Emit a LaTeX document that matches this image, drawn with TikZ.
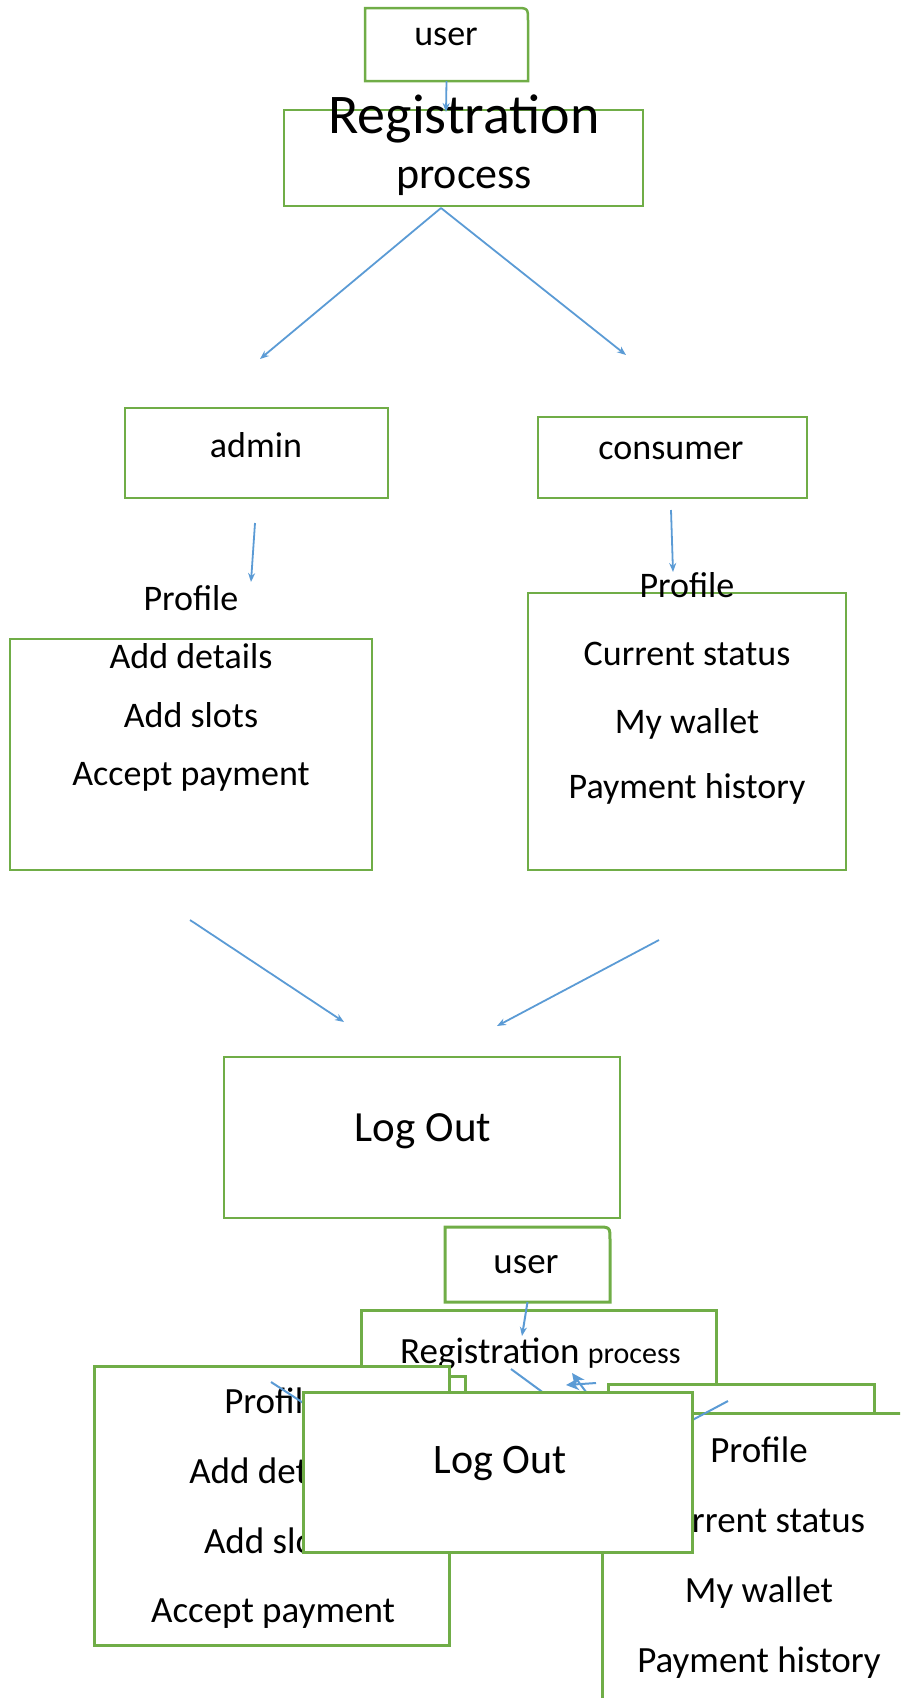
\documentclass[tikz,border=0pt]{standalone}
\usepackage{fontspec}
\setmainfont{Carlito}
\usetikzlibrary{arrows.meta,positioning,calc}
\definecolor{boxgreen}{HTML}{70AD47}
\definecolor{arrowblue}{HTML}{5B9BD5}
\tikzset{
  frame/.style={inner sep=0pt,outer sep=0pt},
  box/.style={frame,draw=boxgreen,line width=2.5pt},
  frontbox/.style={box,line width=3pt,fill=white},
  lbl/.style={anchor=base,inner sep=0pt,font=\fontsize{36}{40}\selectfont},
  conn/.style={draw=arrowblue,line width=1.8pt,-{Stealth[length=9pt,width=7pt]}},
  connB/.style={conn,line width=2pt}
}

\begin{document}
\begin{tikzpicture}[x=1pt,y=-1pt]
  \useasboundingbox (0,0) rectangle (900,1698);
  \clip (0,0) rectangle (900,1698);
  % 上段のフロー
  \node[frame,minimum width=163pt,minimum height=73pt] (userA) at (446.5,44.5) {};
  \draw[box] ($(userA.north east)+(-13,0)$) -- (userA.north west) -- (userA.south west) -- (userA.south east) -- ($(userA.north east)+(0,13)$) .. controls (userA.north east) .. ($(userA.north east)+(-13,0)$);
  \node[lbl] (userAt) at (446,45) {user};
  \node[box,minimum width=359pt,minimum height=96pt] (regA) at (463.5,158) {};
  \node[lbl,font=\fontsize{56}{60}\selectfont] (regAt) at (464,133) {Registration};
  \node[lbl,font=\fontsize{44}{48}\selectfont] (procAt) at (464,188) {process};
  \node[box,minimum width=263pt,minimum height=90pt] (adminA) at (256.5,453) {};
  \node[lbl] (adminAt) at (256,457) {admin};
  \node[box,minimum width=269pt,minimum height=81pt] (consA) at (672.5,457.5) {};
  \node[lbl] (consAt) at (671,459) {consumer};
  \node[lbl] (profA) at (191,610) {Profile};
  \node[box,minimum width=362pt,minimum height=231pt] (adminP) at (191,754.5) {};
  \node[lbl] (adA1) at (191,668) {Add details};
  \node[lbl] (adA2) at (191,727) {Add slots};
  \node[lbl] (adA3) at (191,785) {Accept payment};
  \node[box,minimum width=318pt,minimum height=277pt] (consP) at (687,731.5) {};
  \node[lbl] (coA0) at (687,597) {Profile};
  \node[lbl] (coA1) at (687,665) {Current status};
  \node[lbl] (coA2) at (687,733) {My wallet};
  \node[lbl] (coA3) at (687,798) {Payment history};
  \node[box,minimum width=396pt,minimum height=161pt] (logoutA) at (422,1137.5) {};
  \node[lbl,font=\fontsize{43}{47}\selectfont] (logoutAt) at (423,1141) {Log Out};
  % 上段の矢印
  \coordinate (regAin) at (446,112);
  \coordinate (splitA) at (441,208);
  \coordinate (toAdminA) at (260,359);
  \coordinate (toConsA) at (626,355);
  \coordinate (adminAdown) at (255,523);
  \coordinate (adminAend) at (251,582);
  \coordinate (consAdown) at (671,510);
  \coordinate (consAend) at (673,572);
  \coordinate (adminPout) at (190,920);
  \coordinate (logAinL) at (344,1022);
  \coordinate (consPout) at (659,940);
  \coordinate (logAinR) at (497,1026);
  \draw[conn] (userA.south) -- (regAin);
  \draw[conn] (splitA) -- (toAdminA);
  \draw[conn] (splitA) -- (toConsA);
  \draw[conn] (adminAdown) -- (adminAend);
  \draw[conn] (consAdown) -- (consAend);
  \draw[conn] (adminPout) -- (logAinL);
  \draw[conn] (consPout) -- (logAinR);
  % 下段（重なった図）
  \node[frame,minimum width=165pt,minimum height=75pt] (userB) at (527.5,1264.5) {};
  \draw[box,line width=3pt] ($(userB.north east)+(-13,0)$) -- (userB.north west) -- (userB.south west) -- (userB.south east) -- ($(userB.north east)+(0,13)$) .. controls (userB.north east) .. ($(userB.north east)+(-13,0)$);
  \node[lbl,font=\fontsize{37}{40}\selectfont] (userBt) at (526,1273) {user};
  \node[frontbox,minimum width=355pt,minimum height=130pt] (regB) at (538.5,1375) {};
  \node[lbl,anchor=base west,font=\fontsize{37}{40}\selectfont] (regBt) at (400,1363) {Registration {\fontsize{30}{34}\selectfont process}};
  \node[frontbox,minimum width=315pt,minimum height=124pt] (adminHB) at (307.5,1438) {};
  \node[frontbox,minimum width=266pt,minimum height=56pt] (consB) at (741,1412) {};
  \node[frontbox,minimum width=318pt,minimum height=307pt] (consPB) at (761,1566.5) {};
  \node[lbl,font=\fontsize{37}{40}\selectfont] (coB0) at (759,1462) {Profile};
  \node[lbl,font=\fontsize{37}{40}\selectfont] (coB1) at (759,1532) {Current status};
  \node[lbl,font=\fontsize{37}{40}\selectfont] (coB2) at (759,1602) {My wallet};
  \node[lbl,font=\fontsize{37}{40}\selectfont] (coB3) at (759,1672) {Payment history};
  \node[frontbox,minimum width=355pt,minimum height=279pt] (adminPB) at (271.5,1505.5) {};
  \node[lbl,font=\fontsize{37}{40}\selectfont] (adB0) at (273,1413) {Profile};
  \node[lbl,font=\fontsize{37}{40}\selectfont] (adB1) at (273,1483) {Add details};
  \node[lbl,font=\fontsize{37}{40}\selectfont] (adB2) at (273,1553) {Add slots};
  \node[lbl,font=\fontsize{37}{40}\selectfont] (adB3) at (273,1622) {Accept payment};
  % 下段の矢印（先端は Log Out の下に隠れる）
  \coordinate (regBin) at (522,1336);
  \coordinate (adminPBout) at (271,1382);
  \coordinate (hideL) at (325,1417);
  \coordinate (regBout) at (511,1369);
  \coordinate (hideM) at (556,1402);
  \coordinate (consPBout) at (728,1401);
  \coordinate (hideR) at (668,1433);
  \coordinate (starTailA) at (592,1400);
  \coordinate (starTipA) at (572,1373);
  \coordinate (starTailB) at (596,1383);
  \coordinate (starTipB) at (566,1385);
  \draw[connB] (userB.south) -- (regBin);
  \draw[connB] (adminPBout) -- (hideL);
  \draw[connB] (regBout) -- (hideM);
  \draw[connB] (consPBout) -- (hideR);
  \draw[connB,-{Stealth[length=13pt,width=12pt]}] (starTailA) -- (starTipA);
  \draw[connB,-{Stealth[length=13pt,width=12pt]}] (starTailB) -- (starTipB);
  \node[frontbox,minimum width=389pt,minimum height=160pt] (logoutB) at (497.5,1472) {};
  \node[lbl,font=\fontsize{42}{46}\selectfont] (logoutBt) at (500,1473) {Log Out};
\end{tikzpicture}
\end{document}
